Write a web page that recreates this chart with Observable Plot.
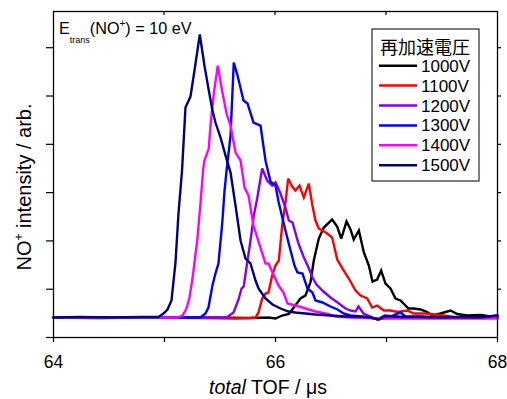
<!DOCTYPE html>
<html>
<head>
<meta charset="utf-8">
<script src="https://cdn.jsdelivr.net/npm/d3@7"></script>
<script src="https://cdn.jsdelivr.net/npm/@observablehq/plot@0.6"></script>
<style>
  html, body { margin: 0; padding: 0; background: white; }
  svg { display: block; }
</style>
</head>
<body>
<div id="chart"></div>
<script>
// ---- data (total TOF in µs, NO+ intensity in arbitrary units) ----
const seriesNames = ["1000V", "1100V", "1200V", "1300V", "1400V", "1500V"];
const seriesColors = ["#000000", "#ff0000", "#8000ff", "#0000ff", "#ff00ff", "#000080"];
const legendTitle = "再加速電圧";
const xTicks = [64, 65, 66, 67, 68];
const xTickLabels = ["64", "", "66", "", "68"];
const yTicks = [0, 1, 2, 3, 4, 5, 6];

const tof1000 = [64.000,64.423,64.874,65.324,65.775,65.937,66.000,66.060,66.120,66.165,66.225,66.270,66.315,66.345,66.390,66.435,66.510,66.556,66.592,66.640,66.676,66.705,66.751,66.796,66.841,66.874,66.916,66.952,66.991,67.036,67.081,67.126,67.198,67.243,67.306,67.367,67.412,67.486,67.577,67.637,67.727,67.847,67.910,68.000];
const int1000 = [0.414,0.404,0.414,0.414,0.404,0.414,0.393,0.455,0.486,0.621,0.807,0.869,1.139,1.594,2.049,2.277,2.443,2.298,2.049,2.401,2.236,2.029,2.215,1.760,1.490,1.159,1.201,1.387,1.118,1.014,0.807,0.766,0.600,0.600,0.580,0.528,0.455,0.497,0.559,0.486,0.455,0.466,0.445,0.435];

const tof1100 = [64.000,64.423,64.874,65.324,65.640,65.775,65.820,65.847,65.880,65.910,65.937,65.970,66.000,66.030,66.060,66.090,66.114,66.150,66.180,66.216,66.255,66.300,66.331,66.360,66.390,66.423,66.466,66.510,66.556,66.615,66.660,66.721,66.766,66.826,66.871,66.916,66.976,67.036,67.099,67.189,67.243,67.351,67.514,67.640,67.757,67.892,68.000];
const int1100 = [0.414,0.414,0.414,0.404,0.393,0.404,0.414,0.518,0.807,0.911,0.932,1.283,1.490,1.594,2.318,2.795,3.291,3.126,3.043,3.146,2.898,3.188,2.753,2.422,2.256,2.215,2.153,2.070,1.615,1.387,1.221,0.973,0.869,0.807,0.621,0.662,0.559,0.559,0.528,0.559,0.497,0.497,0.455,0.414,0.414,0.414,0.414];

const tof1200 = [64.000,64.423,64.874,65.324,65.559,65.622,65.667,65.694,65.714,65.745,65.775,65.805,65.835,65.880,65.925,65.970,66.000,66.045,66.090,66.120,66.153,66.207,66.252,66.297,66.333,66.369,66.432,66.495,66.559,66.631,66.676,66.721,66.748,66.793,66.874,66.919,66.982,67.081,67.216,67.486,67.757,68.000];
const int1200 = [0.414,0.414,0.414,0.414,0.414,0.518,0.787,1.014,1.056,1.553,2.008,2.525,2.877,3.498,3.250,3.146,3.215,2.981,2.691,2.422,2.381,1.946,1.677,1.449,1.242,1.097,0.952,0.828,0.725,0.600,0.559,0.538,0.642,0.497,0.414,0.373,0.455,0.435,0.414,0.414,0.414,0.414];

const tof1300 = [64.000,64.423,64.874,65.324,65.369,65.396,65.432,65.459,65.486,65.520,65.541,65.559,65.595,65.624,65.658,65.712,65.748,65.802,65.865,65.910,65.955,66.000,66.027,66.072,66.117,66.171,66.198,66.243,66.288,66.333,66.360,66.423,66.495,66.559,66.613,66.676,66.766,66.856,66.928,67.036,67.126,67.171,67.306,67.486,67.667,67.847,68.000];
const int1300 = [0.414,0.414,0.414,0.414,0.497,0.621,1.076,1.325,1.532,2.360,3.043,3.457,4.181,5.693,5.423,4.906,4.844,4.451,4.388,3.664,3.229,3.146,2.815,2.381,1.967,1.490,1.346,1.325,1.014,0.932,0.766,0.725,0.642,0.580,0.497,0.455,0.435,0.414,0.373,0.435,0.518,0.435,0.435,0.414,0.414,0.414,0.455];

const tof1400 = [64.000,64.333,64.694,65.054,65.117,65.162,65.198,65.225,65.252,65.295,65.324,65.349,65.360,65.399,65.414,65.444,65.480,65.520,65.559,65.595,65.640,65.685,65.721,65.757,65.802,65.847,65.910,65.937,65.973,66.027,66.072,66.108,66.180,66.270,66.360,66.450,66.541,66.676,66.946,67.306,67.667,68.000];
const int1400 = [0.414,0.404,0.414,0.414,0.414,0.455,0.600,0.828,1.221,2.008,2.774,3.498,3.664,3.912,4.388,5.051,5.630,5.092,4.637,4.388,3.830,3.664,3.105,2.939,2.318,1.987,1.532,1.532,1.346,1.076,0.932,0.704,0.662,0.600,0.538,0.497,0.435,0.414,0.393,0.393,0.393,0.393];

const tof1500 = [64.000,64.243,64.514,64.784,64.946,64.991,65.027,65.063,65.099,65.126,65.158,65.189,65.234,65.270,65.318,65.360,65.396,65.432,65.459,65.505,65.550,65.595,65.640,65.685,65.730,65.775,65.820,65.847,65.910,65.973,66.045,66.117,66.180,66.270,66.360,66.495,66.631,66.766,66.856,66.928,66.991,67.126,67.306,67.486,67.667,67.847,68.000];
const int1500 = [0.414,0.424,0.414,0.424,0.424,0.497,0.580,0.766,1.553,2.567,3.457,4.761,4.989,5.527,6.273,5.630,5.154,4.699,4.451,4.140,3.767,3.416,2.732,2.008,1.635,1.532,1.180,1.014,0.807,0.683,0.600,0.538,0.518,0.497,0.476,0.455,0.435,0.435,0.414,0.373,0.445,0.424,0.424,0.414,0.424,0.414,0.455];

const tofs = [tof1000, tof1100, tof1200, tof1300, tof1400, tof1500];
const ints = [int1000, int1100, int1200, int1300, int1400, int1500];

// Build a tidy table for Plot
const rows = [];
seriesNames.forEach((name, i) => {
  tofs[i].forEach((t, j) => rows.push({series: name, tof: t, intensity: ints[i][j]}));
});

const FONT = "'Liberation Sans', Arial, Helvetica, sans-serif";

const chart = Plot.plot({
  width: 507,
  height: 399,
  marginLeft: 53,
  marginRight: 10,
  marginTop: 11,
  marginBottom: 62,
  style: {fontFamily: FONT, fontSize: "17px", color: "black", background: "white", overflow: "visible"},
  x: {domain: [64, 68]},
  y: {domain: [0, 6.75]},
  color: {domain: seriesNames, range: seriesColors},
  marks: [
    Plot.line(rows, {x: "tof", y: "intensity", z: "series", stroke: "series", strokeWidth: 2.4, strokeLinejoin: "miter", strokeMiterlimit: 3}),
    Plot.frame({stroke: "black", strokeWidth: 1.3}),
    Plot.axisX({anchor: "bottom", ticks: xTicks, tickSize: 5, tickPadding: 13, strokeWidth: 1.2,
      tickFormat: (d) => xTickLabels[xTicks.indexOf(d)], label: null, fontSize: 17.5}),
    Plot.axisY({anchor: "left", ticks: yTicks, tickSize: 7, strokeWidth: 1.2,
      tickFormat: () => "", label: null}),
    Plot.axisY({anchor: "right", ticks: yTicks.slice(1), tickSize: 3, strokeWidth: 1.2,
      tickFormat: () => "", label: null})
  ]
});

document.getElementById("chart").appendChild(chart);

const svg = d3.select(chart);
const xs = chart.scale("x");

// short inward ticks along the top frame edge
xTicks.slice(1, -1).forEach((v) => {
  const px = xs.apply(v);
  svg.append("line").attr("x1", px).attr("x2", px).attr("y1", 11).attr("y2", 15)
    .attr("stroke", "black").attr("stroke-width", 1.2);
});

// Axis titles
const xl = svg.append("text")
  .attr("x", 268).attr("y", 394)
  .attr("text-anchor", "middle")
  .attr("font-family", FONT).attr("font-size", 19.5).attr("fill", "black");
xl.append("tspan").attr("font-style", "italic").text("total");
xl.append("tspan").text(" TOF / μs");

const yl = svg.append("text")
  .attr("transform", "translate(31,187) rotate(-90)")
  .attr("text-anchor", "middle")
  .attr("font-family", FONT).attr("font-size", 20).attr("fill", "black");
yl.append("tspan").text("NO");
yl.append("tspan").attr("dy", -8).attr("font-size", 12).text("+");
yl.append("tspan").attr("dy", 8).text(" intensity / arb.");

// Energy annotation
const ann = svg.append("text")
  .attr("x", 59).attr("y", 34)
  .attr("text-anchor", "start")
  .attr("font-family", FONT).attr("font-size", 16.2).attr("fill", "black");
ann.append("tspan").text("E");
ann.append("tspan").attr("dy", 9).attr("font-size", 9).text("trans");
ann.append("tspan").attr("dy", -9).text("(NO");
ann.append("tspan").attr("dy", -7).attr("font-size", 10).text("+");
ann.append("tspan").attr("dy", 7).text(") = 10 eV");

// Legend
const lg = svg.append("g");
lg.append("rect").attr("x", 372).attr("y", 29).attr("width", 107).attr("height", 152)
  .attr("fill", "white").attr("stroke", "black").attr("stroke-width", 1);
lg.append("text").attr("x", 425).attr("y", 53.5).attr("text-anchor", "middle")
  .attr("font-family", "'Noto Sans CJK JP', sans-serif").attr("font-size", 18).attr("fill", "black")
  .text(legendTitle);
seriesNames.forEach((name, i) => {
  const cy = 65.7 + i * 19.9;
  lg.append("line").attr("x1", 379).attr("x2", 417).attr("y1", cy).attr("y2", cy)
    .attr("stroke", seriesColors[i]).attr("stroke-width", 2.5);
  lg.append("text").attr("x", 421).attr("y", cy + 6).attr("text-anchor", "start")
    .attr("font-family", FONT).attr("font-size", 17).attr("fill", "black").text(name);
});
</script>
</body>
</html>
